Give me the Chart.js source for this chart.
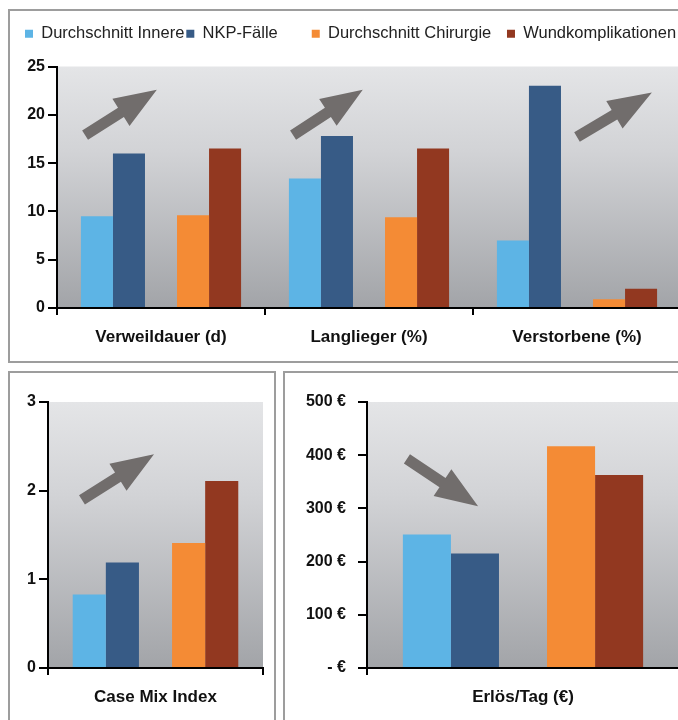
<!DOCTYPE html>
<html>
<head>
<meta charset="utf-8">
<script src="https://cdn.jsdelivr.net/npm/chart.js@4.4.0/dist/chart.umd.min.js"></script>
<style>
  body { margin: 0; width: 678px; height: 720px; overflow: hidden; background: #fff; }
  .panel { position: absolute; border: 2px solid #9d9d9d; box-sizing: border-box; }
  canvas { position: absolute; }
</style>
</head>
<body>
<div class="panel" style="left:8px;top:9px;width:700px;height:354px"></div>
<div class="panel" style="left:8px;top:371px;width:268px;height:400px"></div>
<div class="panel" style="left:283px;top:371px;width:420px;height:400px"></div>
<canvas id="chartTop" width="671" height="348" style="left:10px;top:12px"></canvas>
<canvas id="chartCmi" width="262" height="346" style="left:12px;top:374px"></canvas>
<canvas id="chartErloes" width="400" height="346" style="left:286px;top:374px"></canvas>
<script>
var seriesNames = ['Durchschnitt Innere', 'NKP-Fälle', 'Durchschnitt Chirurgie', 'Wundkomplikationen'];
var seriesColors = ['#5db4e5', '#375b86', '#f48b35', '#923820'];

var topCategories = ['Verweildauer (d)', 'Langlieger (%)', 'Verstorbene (%)'];
var topInnere = [9.5, 13.4, 7.0];
var topNkp = [16.0, 17.8, 23.0];
var topChirurgie = [9.6, 9.4, 0.9];
var topWund = [16.5, 16.5, 2.0];

var cmiCategories = ['Case Mix Index'];
var cmiInnere = [0.83];
var cmiNkp = [1.19];
var cmiChirurgie = [1.41];
var cmiWund = [2.11];

var erloesCategories = ['Erlös/Tag (€)'];
var erloesInnere = [251];
var erloesNkp = [215];
var erloesChirurgie = [417];
var erloesWund = [363];
var erloesTickLabels = ['- €', '100 €', '200 €', '300 €', '400 €', '500 €'];

// trend arrows: [fromIndex, fromValue, toIndex, toValue] in axis units
var topArrows = [[-0.365, 17.9, -0.02, 22.6], [0.635, 17.9, 0.97, 22.6], [2.0, 17.7, 2.36, 22.3]];
var cmiArrows = [[-0.342, 1.895, -0.007, 2.41]];
var erloesArrows = [[-0.372, 393, -0.144, 304]];

var fontFam = "'Liberation Sans', Arial, sans-serif";

function makeDatasets(innere, nkp, chir, wund) {
  var blank = innere.map(function () { return null; });
  return [
    { label: seriesNames[0], data: innere, backgroundColor: seriesColors[0] },
    { label: seriesNames[1], data: nkp, backgroundColor: seriesColors[1] },
    // empty slot between the two pairs (also makes the gap in the legend)
    { label: '   ', data: blank, backgroundColor: 'rgba(0,0,0,0)' },
    { label: seriesNames[2] + '   ', data: chir, backgroundColor: seriesColors[2] },
    { label: seriesNames[3], data: wund, backgroundColor: seriesColors[3] }
  ];
}

var backdrop = {
  id: 'backdrop',
  beforeDraw: function (chart) {
    var a = chart.chartArea, ctx = chart.ctx;
    var g = ctx.createLinearGradient(0, a.top, 0, a.bottom);
    g.addColorStop(0, '#e4e5e7');
    g.addColorStop(0.35, '#d2d3d6');
    g.addColorStop(1, '#a2a4a8');
    ctx.save();
    ctx.fillStyle = g;
    ctx.fillRect(a.left, a.top, a.right - a.left, a.bottom - a.top);
    ctx.restore();
  }
};

var trendArrows = {
  id: 'trendArrows',
  afterDatasetsDraw: function (chart, args, opts) {
    var xs = chart.scales.x, ys = chart.scales.y, ctx = chart.ctx;
    (opts.list || []).forEach(function (ar) {
      var x0 = xs.getPixelForValue(ar[0]), y0 = ys.getPixelForValue(ar[1]);
      var x1 = xs.getPixelForValue(ar[2]), y1 = ys.getPixelForValue(ar[3]);
      var dx = x1 - x0, dy = y1 - y0, len = Math.sqrt(dx * dx + dy * dy);
      var ux = dx / len, uy = dy / len, nx = -uy, ny = ux;
      var head = len * 0.5, sw = 5.5, hw = 16;
      var bx = x1 - ux * head, by = y1 - uy * head;
      ctx.save();
      ctx.fillStyle = '#716d6c';
      ctx.beginPath();
      ctx.moveTo(x0 + nx * sw, y0 + ny * sw);
      ctx.lineTo(bx + nx * sw, by + ny * sw);
      ctx.lineTo(bx + nx * hw, by + ny * hw);
      ctx.lineTo(x1, y1);
      ctx.lineTo(bx - nx * hw, by - ny * hw);
      ctx.lineTo(bx - nx * sw, by - ny * sw);
      ctx.lineTo(x0 - nx * sw, y0 - ny * sw);
      ctx.closePath();
      ctx.fill();
      ctx.restore();
    });
  }
};

// more room under the legend
var legendGap = {
  id: 'legendGap',
  beforeInit: function (chart) {
    if (!chart.legend) return;
    var fit = chart.legend.fit;
    chart.legend.fit = function () {
      fit.bind(chart.legend)();
      this.height += 14.5;
    };
  }
};

function makeAxes(yMax, yStep, yWidth, yPad, yLabel) {
  return {
    x: {
      grid: { display: true, drawOnChartArea: false, drawTicks: true, tickLength: 7, color: '#000', lineWidth: 2, offset: true },
      border: { display: true, color: '#000', width: 2 },
      ticks: { color: '#111', font: { family: fontFam, size: 17, weight: 'bold' }, padding: 12 },
      afterFit: function (s) { s.height = 52; }
    },
    y: {
      min: 0, max: yMax,
      grid: { drawOnChartArea: false, drawTicks: true, tickLength: 9, color: '#000', lineWidth: 2 },
      border: { display: true, color: '#000', width: 2 },
      ticks: { stepSize: yStep, color: '#111', padding: yPad, font: { family: fontFam, size: 16, weight: 'bold' }, callback: yLabel },
      afterFit: function (s) { s.width = yWidth; }
    }
  };
}

function drawChart(id, labels, datasets, axes, arrows, showLegend, padding) {
  new Chart(document.getElementById(id), {
    type: 'bar',
    data: { labels: labels, datasets: datasets },
    options: {
      responsive: false,
      animation: false,
      datasets: { bar: { barPercentage: 1, categoryPercentage: 0.77, borderWidth: 0 } },
      layout: { padding: padding },
      scales: axes,
      plugins: {
        legend: {
          display: showLegend,
          align: 'start',
          labels: { boxWidth: 8, boxHeight: 8, padding: 2, color: '#222', font: { family: fontFam, size: 16.5 } }
        },
        tooltip: { enabled: false },
        trendArrows: { list: arrows }
      }
    },
    plugins: showLegend ? [backdrop, trendArrows, legendGap] : [backdrop, trendArrows]
  });
}

drawChart('chartTop', topCategories, makeDatasets(topInnere, topNkp, topChirurgie, topWund),
  makeAxes(25, 5, 34, 3), topArrows, true, { top: 11.5, left: 13, right: 0, bottom: 0 });

drawChart('chartCmi', cmiCategories, makeDatasets(cmiInnere, cmiNkp, cmiChirurgie, cmiWund),
  makeAxes(3, 1, 36, 3), cmiArrows, false, { top: 28, left: 0, right: 11, bottom: 0 });

drawChart('chartErloes', erloesCategories, makeDatasets(erloesInnere, erloesNkp, erloesChirurgie, erloesWund),
  makeAxes(500, 100, 81, 12, function (v) { return erloesTickLabels[Math.round(v / 100)]; }),
  erloesArrows, false, { top: 28, left: 0, right: 7, bottom: 0 });
</script>
</body>
</html>
